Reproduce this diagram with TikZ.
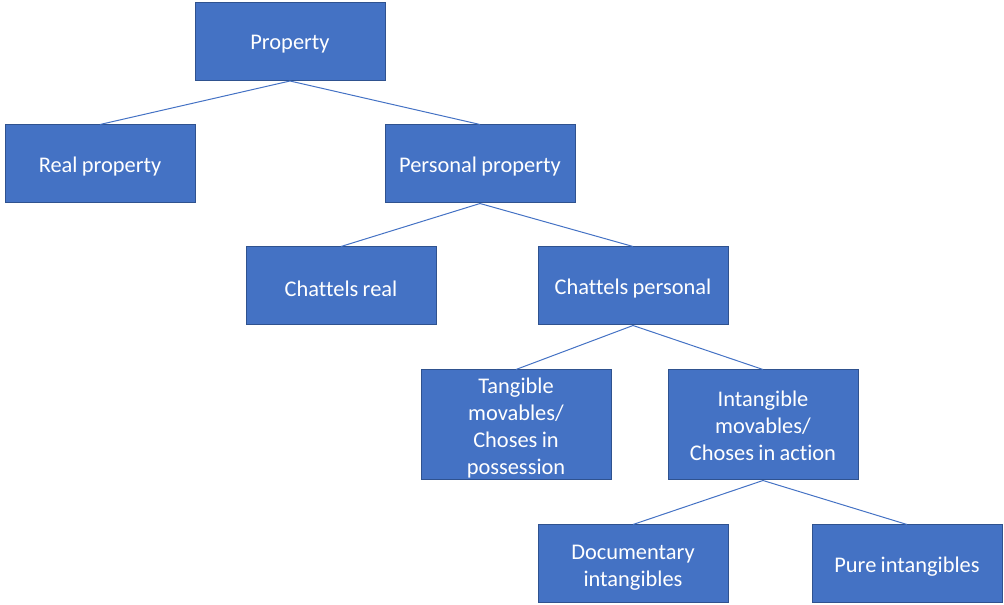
\documentclass[tikz,border=0pt]{standalone}
\usepackage{fontspec}
\setmainfont{Carlito}[Ligatures={NoCommon},WordSpace={0.85}]
\definecolor{boxfill}{HTML}{4472C4}
\definecolor{boxline}{HTML}{2F528F}
\definecolor{conn}{HTML}{4472C4}
\begin{document}
\begin{tikzpicture}[x=0.75pt,y=-0.75pt,
  box/.style={draw=boxline,line width=0.75pt,fill=boxfill,
    minimum width=142.5pt,minimum height=58.5pt,inner sep=0pt},
  tallbox/.style={box,minimum height=82.5pt},
  txt/.style={text=white,align=center,inner sep=0pt,
    font=\fontsize{16.8}{20.25}\selectfont},
  conn/.style={draw=conn,line width=0.75pt}]
\useasboundingbox (0,0) rectangle (1004,605);
\node[box] (prop) at (290,41.5) {};
\node[box] (real) at (100,164) {};
\node[box] (pers) at (480,164) {};
\node[box] (creal) at (341,286) {};
\node[box] (cpers) at (633,286) {};
\node[tallbox] (tang) at (516,425) {};
\node[tallbox] (intang) at (763,425) {};
\node[box] (doc) at (633,564) {};
\node[box] (pure) at (907,564) {};
\node[txt] (tprop) at ([yshift=-2.25pt]prop.center) {Property};
\node[txt] (treal) at ([yshift=-2.25pt]real.center) {Real property};
\node[txt] (tpers) at ([yshift=-2.25pt]pers.center) {Personal property};
\node[txt] (tcreal) at ([yshift=-2.25pt]creal.center) {Chattels real};
\node[txt] (tcpers) at ([yshift=-2.25pt]cpers.center) {Chattels personal};
\node[txt] (ttang) at ([yshift=-2.25pt]tang.center) {Tangible\\movables/\\Choses in\\possession};
\node[txt] (tintang) at ([yshift=-0.75pt]intang.center) {Intangible\\movables/\\Choses in action};
\node[txt] (tdoc) at ([yshift=-2.5pt]doc.center) {Documentary\\intangibles};
\node[txt] (tpure) at ([yshift=-2.25pt]pure.center) {Pure intangibles};
\draw[conn] (prop.south) -- (real.north);
\draw[conn] (prop.south) -- (pers.north);
\draw[conn] (pers.south) -- (creal.north);
\draw[conn] (pers.south) -- (cpers.north);
\draw[conn] (cpers.south) -- (tang.north);
\draw[conn] (cpers.south) -- (intang.north);
\draw[conn] (intang.south) -- (doc.north);
\draw[conn] (intang.south) -- (pure.north);
\end{tikzpicture}
\end{document}
